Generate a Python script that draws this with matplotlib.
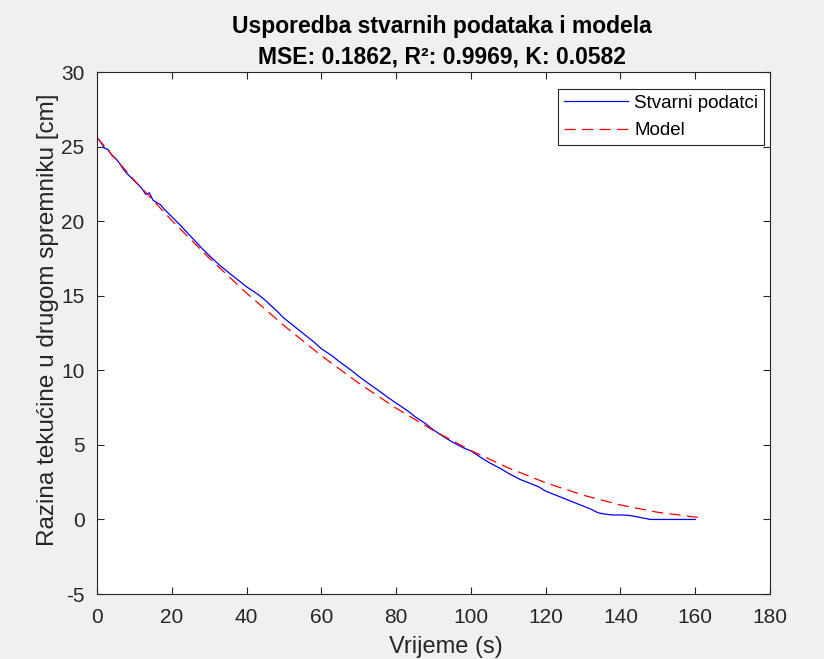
import numpy as np
import matplotlib.pyplot as plt

plt.rcParams['font.family'] = ['Liberation Sans', 'DejaVu Sans']
plt.rcParams['axes.unicode_minus'] = False

t_real = [0, 1, 2, 3, 4, 5, 6, 7, 8, 10, 12, 13, 14, 15, 17, 18, 20, 22, 25, 28, 30,
          33, 35, 38, 40, 43, 45, 48, 50, 53, 55, 58, 60, 63, 65, 68, 70, 73, 75, 78,
          80, 83, 85, 88, 90, 93, 95, 98, 100, 103, 105, 108, 110, 113, 115, 118, 120,
          123, 125, 128, 130, 132, 134, 136, 138, 140, 142, 144, 146, 148, 150, 155, 160]
h_real = [25.6, 25.3, 24.9, 24.8, 24.4, 24.2, 23.9, 23.5, 23.2, 22.7, 22.2, 21.8, 21.9, 21.4,
          21.1, 20.8, 20.3, 19.8, 19.0, 18.2, 17.7, 17.0, 16.6, 16.0, 15.6, 15.1, 14.7, 14.0,
          13.5, 12.9, 12.5, 11.9, 11.45, 10.95, 10.55, 10.0, 9.6, 9.05, 8.7, 8.15, 7.8, 7.3,
          6.9, 6.4, 6.0, 5.5, 5.2, 4.8, 4.6, 4.1, 3.8, 3.4, 3.1, 2.7, 2.5, 2.2, 1.9, 1.6, 1.4,
          1.1, 0.9, 0.7, 0.45, 0.35, 0.3, 0.3, 0.28, 0.2, 0.1, 0.0, 0.0, 0.0, 0.0]

# model curve
t_model = [0, 10, 20, 30, 40, 50, 60, 70, 80, 90, 100, 110, 120, 130, 140, 150, 160, 161]
h_model = [25.6, 22.74, 20.05, 17.53, 15.18, 13.0, 10.98, 9.14, 7.46, 5.96, 4.62, 3.46,
           2.46, 1.63, 0.97, 0.48, 0.16, 0.14]

bg = '#f0f0f0'
txt = '#262626'

fig = plt.figure(figsize=(8.24, 6.59), dpi=100, facecolor=bg)
ax = fig.add_axes([0.1177, 0.0986, 0.8168, 0.7921])

ax.plot(t_real, h_real, color=(0, 0, 1), lw=0.9, label='Stvarni podatci')
ax.plot(t_model, h_model, color=(1, 0, 0), lw=0.9, ls=(0, (9, 5)), label='Model')

ax.set_xlim(0, 180)
ax.set_ylim(-5, 30)
ax.set_xticks(np.arange(0, 181, 20))
ax.set_yticks(np.arange(-5, 31, 5))
ax.tick_params(direction='in', top=True, right=True, length=5, width=0.8,
               labelsize=15, colors=txt)
ax.tick_params(axis='x', pad=10)
ax.tick_params(axis='y', pad=9)
for s in ax.spines.values():
    s.set_color(txt)
    s.set_linewidth(0.8)

ax.set_xlabel('Vrijeme (s)', fontsize=17, color=txt)
ax.set_ylabel('Razina tekućine u drugom spremniku [cm]', fontsize=17.5, color=txt)
ax.xaxis.set_label_coords(0.519, -0.081)
ax.yaxis.set_label_coords(-0.057, 0.525)
ax.set_title('Usporedba stvarnih podataka i modela\nMSE: 0.1862, R²: 0.9969, K: 0.0582',
             fontsize=16.5, fontweight='bold', pad=6, linespacing=1.42, x=0.512)

leg = ax.legend(loc='upper right', bbox_to_anchor=(0.991, 0.967), borderaxespad=0,
                fontsize=13.5, fancybox=False, framealpha=1, edgecolor=txt,
                handlelength=3.4, borderpad=0.3, labelspacing=0.55, handletextpad=0.35)
leg.get_frame().set_linewidth(0.8)

fig.savefig('out.png', dpi=100, facecolor=bg)
